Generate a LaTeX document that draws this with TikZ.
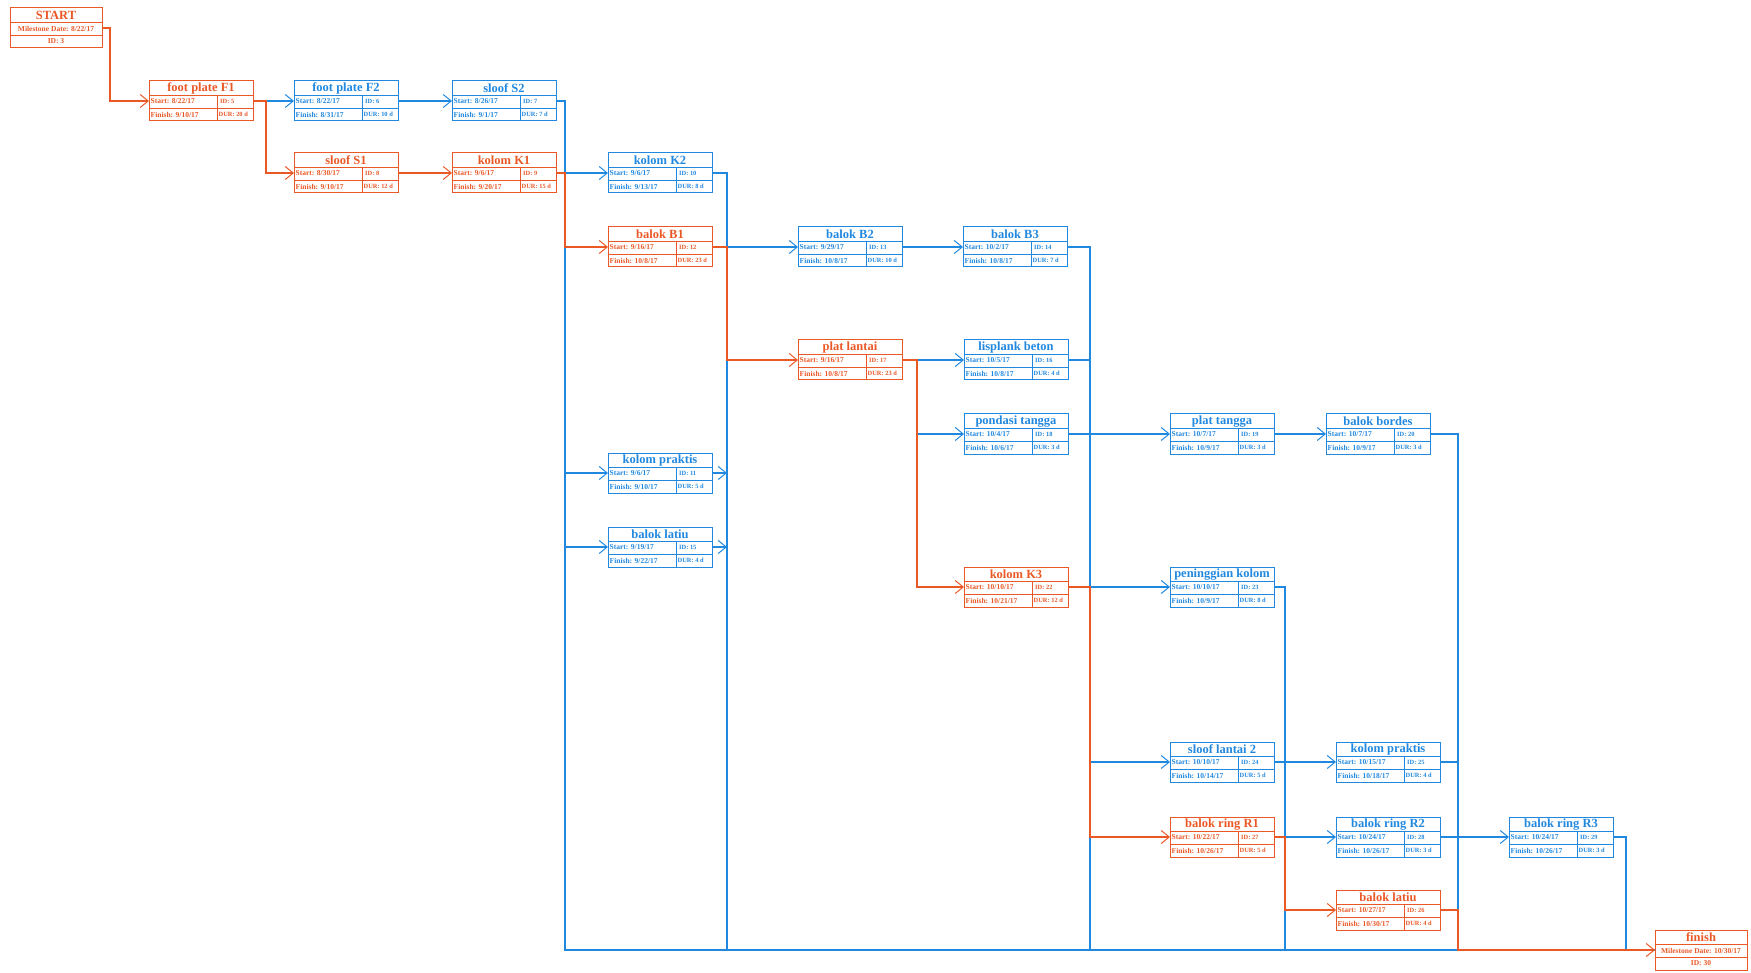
\documentclass[tikz,border=0pt]{standalone}
\usepackage{fontspec}
\setmainfont{Liberation Serif}
\usetikzlibrary{arrows.meta}
\definecolor{org}{RGB}{234,88,38}
\definecolor{blu}{RGB}{33,136,224}
\tikzset{
  taskbox/.style={rectangle, line width=1pt, minimum width=104pt, minimum height=40pt, inner sep=0pt, outer sep=0pt, anchor=north west},
  msbox/.style={taskbox, minimum width=92pt},
  boxline/.style={line width=0.9pt},
  ttl/.style={inner sep=0pt, font=\fontsize{12.5}{12.5}\selectfont\bfseries},
  cell/.style={anchor=west, inner sep=0pt, font=\fontsize{7.5}{8}\selectfont\bfseries},
  cellb/.style={anchor=west, inner sep=0pt, font=\fontsize{6.4}{7}\selectfont\bfseries},
  mcell/.style={inner sep=0pt, font=\fontsize{7.5}{8}\selectfont\bfseries},
  conn/.style={line width=1.2pt},
  arr/.style={conn, -{Straight Barb[length=8pt,width=13pt,line width=1pt]}},
}
\newcommand{\tsk}[9]{%
  \node[taskbox, draw=#4] (#1) at (#2,#3) {};
  \draw[#4, boxline] ([yshift=-14pt]#1.north west) -- ([yshift=-14pt]#1.north east)
     ([yshift=-27pt]#1.north west) -- ([yshift=-27pt]#1.north east)
     ([xshift=68pt,yshift=-14pt]#1.north west) -- ([xshift=68pt]#1.south west);
  \node[ttl, text=#4] (#1-t) at ([yshift=-7.5pt]#1.north) {#5};
  \node[cell, text=#4] (#1-s) at ([xshift=1.5pt,yshift=-20.5pt]#1.north west) {Start: #6};
  \node[cellb, text=#4] (#1-i) at ([xshift=71pt,yshift=-20.5pt]#1.north west) {ID: #7};
  \node[cell, text=#4] (#1-f) at ([xshift=1.5pt,yshift=-33.5pt]#1.north west) {Finish: #8};
  \node[cellb, text=#4] (#1-d) at ([xshift=69.5pt,yshift=-33.5pt]#1.north west) {DUR: #9};
}
\newcommand{\mst}[6]{%
  \node[msbox, draw=org] (#1) at (#2,#3) {};
  \draw[org, boxline] ([yshift=-14pt]#1.north west) -- ([yshift=-14pt]#1.north east)
     ([yshift=-27pt]#1.north west) -- ([yshift=-27pt]#1.north east);
  \node[ttl, text=org] (#1-t) at ([yshift=-7.5pt]#1.north) {#4};
  \node[mcell, text=org] (#1-m) at ([yshift=-20.5pt]#1.north) {Milestone Date: #5};
  \node[mcell, text=org] (#1-i) at ([yshift=-33.5pt]#1.north) {ID: #6};
}
\begin{document}
\begin{tikzpicture}[x=1pt, y=-1pt]
\useasboundingbox (0,0) rectangle (1751,973);
% milestones
\mst{start}{10}{8}{START}{8/22/17}{3}
\mst{finish}{1655}{930}{finish}{10/30/17}{30}
% tasks
\tsk{fa}{149}{81}{org}{foot plate F1}{8/22/17}{5}{9/10/17}{20 d}
\tsk{fb}{294}{81}{blu}{foot plate F2}{8/22/17}{6}{8/31/17}{10 d}
\tsk{sb}{452}{81}{blu}{sloof S2}{8/26/17}{7}{9/1/17}{7 d}
\tsk{sa}{294}{153}{org}{sloof S1}{8/30/17}{8}{9/10/17}{12 d}
\tsk{ka}{452}{153}{org}{kolom K1}{9/6/17}{9}{9/20/17}{15 d}
\tsk{kb}{608}{153}{blu}{kolom K2}{9/6/17}{10}{9/13/17}{8 d}
\tsk{ba}{608}{227}{org}{balok B1}{9/16/17}{12}{10/8/17}{23 d}
\tsk{bb}{798}{227}{blu}{balok B2}{9/29/17}{13}{10/8/17}{10 d}
\tsk{bc}{963}{227}{blu}{balok B3}{10/2/17}{14}{10/8/17}{7 d}
\tsk{pl}{798}{340}{org}{plat lantai}{9/16/17}{17}{10/8/17}{23 d}
\tsk{lb}{964}{340}{blu}{lisplank beton}{10/5/17}{16}{10/8/17}{4 d}
\tsk{pt}{964}{414}{blu}{pondasi tangga}{10/4/17}{18}{10/6/17}{3 d}
\tsk{ptg}{1170}{414}{blu}{plat tangga}{10/7/17}{19}{10/9/17}{3 d}
\tsk{bo}{1326}{414}{blu}{balok bordes}{10/7/17}{20}{10/9/17}{3 d}
\tsk{kpa}{608}{453}{blu}{kolom praktis}{9/6/17}{11}{9/10/17}{5 d}
\tsk{bla}{608}{527}{blu}{balok latiu}{9/19/17}{15}{9/22/17}{4 d}
\tsk{kc}{964}{567}{org}{kolom K3}{10/10/17}{22}{10/21/17}{12 d}
\tsk{pk}{1170}{567}{blu}{peninggian kolom}{10/10/17}{23}{10/9/17}{8 d}
\tsk{sl}{1170}{742}{blu}{sloof lantai 2}{10/10/17}{24}{10/14/17}{5 d}
\tsk{kpb}{1336}{742}{blu}{kolom praktis}{10/15/17}{25}{10/18/17}{4 d}
\tsk{ra}{1170}{817}{org}{balok ring R1}{10/22/17}{27}{10/26/17}{5 d}
\tsk{rb}{1336}{817}{blu}{balok ring R2}{10/24/17}{28}{10/26/17}{3 d}
\tsk{blb}{1336}{890}{org}{balok latiu}{10/27/17}{26}{10/30/17}{4 d}
\tsk{rc}{1509}{817}{blu}{balok ring R3}{10/24/17}{29}{10/26/17}{3 d}
% bus coordinates
\coordinate (x0) at (110,0);
\coordinate (x1) at (266,0);
\coordinate (x2) at (565,0);
\coordinate (x3) at (727,0);
\coordinate (x4) at (917,0);
\coordinate (x5) at (1090,0);
\coordinate (x6) at (1285,0);
\coordinate (x7) at (1458,0);
\coordinate (x8) at (1626,0);
% blue connectors
\begin{scope}[blu]
\draw[arr] (fa.east) -- (fb.west);
\draw[arr] (fb.east) -- (sb.west);
\draw[conn] (sb.east) -- (sb.east -| x2) |- (finish.west);
\draw[arr] (ka.east) -- (kb.west);
\draw[arr] (ka.east) -- (ka.east -| x2) |- (kpa.west);
\draw[arr] (ka.east) -- (ka.east -| x2) |- (bla.west);
\draw[conn] (kb.east) -- (kb.east -| x3) |- (finish.west);
\draw[arr] (kpa.east) -- (kpa.east -| x3);
\draw[arr] (bla.east) -- (bla.east -| x3);
\draw[arr] (ba.east) -- (bb.west);
\draw[arr] (bb.east) -- (bc.west);
\draw[conn] (bc.east) -- (bc.east -| x5) |- (finish.west);
\draw[arr] (pl.east) -- (lb.west);
\draw[arr] (pl.east) -- (pl.east -| x4) |- (pt.west);
\draw[conn] (lb.east) -- (lb.east -| x5);
\draw[arr] (pt.east) -- (ptg.west);
\draw[arr] (ptg.east) -- (bo.west);
\draw[conn] (bo.east) -- (bo.east -| x7) |- (finish.west);
\draw[arr] (kc.east) -- (pk.west);
\draw[arr] (kc.east) -- (kc.east -| x5) |- (sl.west);
\draw[conn] (pk.east) -- (pk.east -| x6) |- (finish.west);
\draw[arr] (sl.east) -- (kpb.west);
\draw[conn] (kpb.east) -- (kpb.east -| x7);
\draw[arr] (ra.east) -- (rb.west);
\draw[arr] (rb.east) -- (rc.west);
\draw[conn] (rc.east) -- (rc.east -| x8) |- (finish.west);
\end{scope}
% orange (critical) connectors
\begin{scope}[org]
\draw[arr] (start.east) -- (start.east -| x0) |- (fa.west);
\draw[arr] (fa.east) -- (fa.east -| x1) |- (sa.west);
\draw[arr] (sa.east) -- (ka.west);
\draw[arr] (ka.east) -- (ka.east -| x2) |- (ba.west);
\draw[arr] (ba.east) -- (ba.east -| x3) |- (pl.west);
\draw[arr] (pl.east) -- (pl.east -| x4) |- (kc.west);
\draw[arr] (kc.east) -- (kc.east -| x5) |- (ra.west);
\draw[arr] (ra.east) -- (ra.east -| x6) |- (blb.west);
\draw[arr] (blb.east) -- (blb.east -| x7) |- (finish.west);
\end{scope}
\end{tikzpicture}
\end{document}
